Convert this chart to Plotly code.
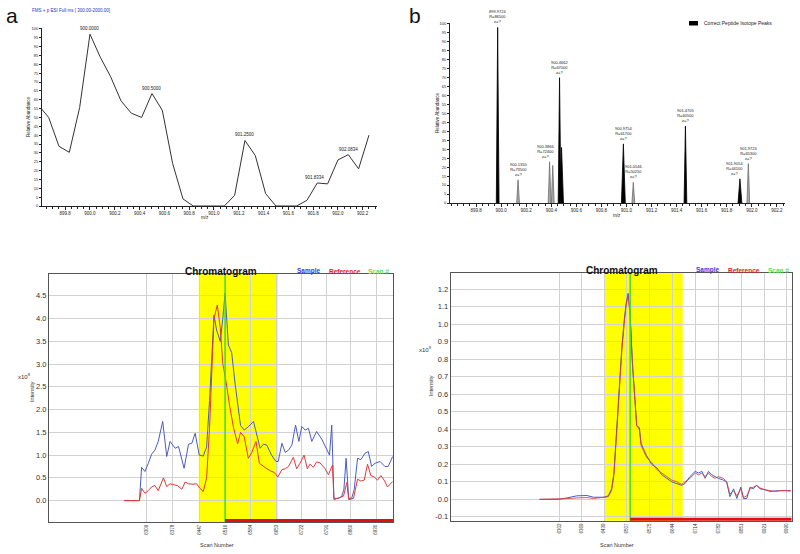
import plotly.graph_objects as go

W, H = 800, 554
def px(x): return x / W
def py(y): return 1 - y / H

FONT = "Liberation Sans, Arial, sans-serif"

# ---------------- Panel a : profile spectrum ----------------
a_mz = [899.5833, 899.6667, 899.75, 899.8333, 899.9167, 900.0, 900.0833, 900.1667,
        900.25, 900.3333, 900.4167, 900.5, 900.5833, 900.6667, 900.75, 900.8333,
        900.9167, 901.0, 901.0833, 901.1667, 901.25, 901.3333, 901.4167, 901.5,
        901.5833, 901.6667, 901.75, 901.8334, 901.9167, 902.0, 902.0834, 902.1667, 902.25]
a_abund = [57, 50, 33.7, 30.3, 55.6, 97, 84, 73, 59.4, 52.4, 50, 63.5, 54, 24, 4, 0,
           0, 0, 0, 6, 37, 28.5, 7, 0, 0, 0, 3.2, 13, 12.5, 26, 29, 21, 40]
a_label_mz = [900.0, 900.5, 901.25, 901.8334, 902.0834]
a_label_y = [97, 63.5, 37, 13, 29]
a_label_text = ["900.0000", "900.5000", "901.2500", "901.8334", "902.0834"]
a_xticks = [899.8, 900.0, 900.2, 900.4, 900.6, 900.8, 901.0, 901.2, 901.4, 901.6, 901.8, 902.0, 902.2]
ab_yticks = [0, 5, 10, 15, 20, 25, 30, 35, 40, 45, 50, 55, 60, 65, 70, 75, 80, 85, 90, 95, 100]

# ---------------- Panel b : centroid isotope peaks ----------------
b_mz = [899.9724, 900.1350, 900.3866, 900.4120, 900.4662, 900.4820, 900.9754,
        901.0546, 901.4705, 901.9054, 901.9724]
b_int = [98, 13, 23, 21, 70, 31, 33, 11.5, 43, 13.5, 22]
b_correct = [True, False, False, False, True, True, True, False, True, True, False]
b_label_mz = [899.9724, 900.1350, 900.3866, 900.4662, 900.9754, 901.0546, 901.4705, 901.9054, 901.9724]
b_label_int = [98, 13, 23, 70, 33, 11.5, 43, 13.5, 22]
b_label_R = [86500, 73500, 72400, 67000, 61700, 50250, 60500, 44100, 65300]
b_xticks = a_xticks

# ---------------- Panel c : chromatogram 1 ----------------
c_scan_sample = [6248, 6289, 6295, 6304, 6313, 6322, 6331, 6340, 6352, 6363, 6372, 6386,
                 6395, 6410, 6422, 6431, 6440, 6451, 6462, 6471, 6479, 6485, 6491, 6498,
                 6508, 6515, 6521, 6530, 6539, 6548, 6557, 6563, 6573, 6584, 6598, 6607,
                 6616, 6625, 6634, 6647, 6659, 6665, 6675, 6684, 6693, 6702, 6712, 6721,
                 6729, 6738, 6747, 6756, 6769, 6783, 6792, 6804, 6810, 6816, 6828, 6837,
                 6843, 6849, 6856, 6864, 6871, 6880, 6889, 6900, 6909, 6918, 6927, 6941,
                 6954, 6963, 6975]
c_sample = [0.0, 0.0, 0.73, 0.64, 0.82, 1.02, 1.11, 1.30, 1.74, 0.97, 1.30, 1.15,
            1.19, 0.71, 1.24, 1.26, 1.48, 1.00, 0.98, 1.18, 2.2, 3.2, 4.08, 3.75,
            3.5, 4.01, 4.56, 3.42, 3.25, 2.58, 2.0, 1.65, 1.55, 1.62, 1.74, 1.41,
            1.15, 1.24, 1.22, 1.0, 0.86, 0.86, 1.26, 1.06, 1.11, 1.22, 1.66, 1.3,
            1.63, 1.55, 1.59, 1.3, 1.52, 1.35, 1.2, 1.0, 1.66, 0.05, 0.05, 0.09,
            0.25, 0.93, 0.05, 0.05, 0.25, 0.93, 0.9, 1.04, 1.08, 0.75, 0.82, 0.86,
            0.75, 0.75, 0.97]
c_scan_ref = [6248, 6289, 6295, 6304, 6313, 6322, 6331, 6340, 6354, 6363, 6372, 6381,
              6392, 6404, 6413, 6422, 6434, 6444, 6453, 6462, 6471, 6479, 6485, 6491,
              6500, 6508, 6515, 6524, 6533, 6544, 6555, 6563, 6573, 6584, 6593, 6605,
              6614, 6625, 6634, 6645, 6654, 6664, 6675, 6684, 6693, 6706, 6715, 6724,
              6735, 6744, 6751, 6760, 6769, 6778, 6792, 6801, 6812, 6816, 6828, 6842,
              6851, 6856, 6869, 6880, 6889, 6898, 6907, 6916, 6925, 6934, 6943, 6952,
              6961, 6975]
c_ref = [0.0, 0.0, 0.27, 0.16, 0.22, 0.30, 0.33, 0.22, 0.50, 0.31, 0.37, 0.35,
         0.33, 0.25, 0.41, 0.37, 0.36, 0.37, 0.27, 0.20, 0.50, 1.6, 3.0, 4.0,
         4.3, 3.8, 3.0, 2.6, 2.1, 1.6, 1.25, 1.5, 1.4, 0.93, 1.05, 1.3,
         0.82, 0.75, 0.7, 0.65, 0.62, 0.52, 0.68, 0.7, 0.75, 0.95, 0.7, 0.82,
         1.0, 0.7, 0.8, 0.73, 0.85, 0.83, 0.7, 0.57, 0.78, 0.02, 0.05, 0.1,
         0.4, 0.02, 0.05, 0.47, 0.43, 0.45, 0.8, 0.55, 0.52, 0.45, 0.55, 0.45,
         0.3, 0.42]
c_xtick_pos = [6309, 6379, 6451, 6521, 6591, 6661, 6729, 6796, 6860, 6930]
c_xtick_text = ["6309", "6378", "6447", "6516", "6584", "6653", "6722", "6791", "6860", "6930"]
c_yticks = [0.0, 0.5, 1.0, 1.5, 2.0, 2.5, 3.0, 3.5, 4.0, 4.5]
c_window = [6450, 6664]
c_scan_marker = 6521

# ---------------- Panel d : chromatogram 2 ----------------
d_scan = [6242, 6299, 6324, 6355, 6385, 6405, 6425, 6437, 6450, 6460, 6467, 6476,
          6484, 6491, 6498, 6504, 6510, 6516, 6523, 6531, 6536, 6544, 6549, 6556,
          6566, 6581, 6597, 6612, 6627, 6642, 6657, 6672, 6682, 6697, 6713, 6723,
          6733, 6743, 6753, 6763, 6773, 6783, 6798, 6808, 6818, 6829, 6839, 6851,
          6859, 6869, 6879, 6889, 6899, 6909, 6924, 6939, 6955, 6970, 6985, 7002]
d_sample = [0.0, 0.0, 0.008, 0.02, 0.022, 0.012, 0.012, 0.012, 0.02, 0.06, 0.15, 0.42,
            0.68, 0.87, 1.02, 1.12, 1.177, 1.06, 0.78, 0.53, 0.42, 0.41, 0.32, 0.29,
            0.25, 0.2, 0.18, 0.14, 0.12, 0.1, 0.09, 0.08, 0.09, 0.13, 0.16, 0.15,
            0.16, 0.12, 0.16, 0.14, 0.13, 0.12, 0.11, 0.1, 0.015, 0.06, 0.005, 0.07,
            0.005, 0.005, 0.07, 0.06, 0.08, 0.06, 0.055, 0.045, 0.048, 0.05, 0.05, 0.047]
d_ref = [0.0, 0.0, 0.004, 0.008, 0.01, 0.005, 0.01, 0.01, 0.015, 0.05, 0.14, 0.4,
         0.66, 0.85, 1.0, 1.11, 1.165, 1.05, 0.77, 0.52, 0.42, 0.40, 0.31, 0.28,
         0.24, 0.21, 0.17, 0.15, 0.13, 0.11, 0.1, 0.085, 0.1, 0.12, 0.15, 0.14,
         0.15, 0.13, 0.15, 0.13, 0.12, 0.13, 0.12, 0.1, 0.03, 0.05, 0.02, 0.06,
         0.01, 0.02, 0.06, 0.07, 0.08, 0.065, 0.055, 0.05, 0.045, 0.05, 0.05, 0.05]
d_xtick_pos = [6302, 6368, 6437, 6506, 6576, 6645, 6713, 6783, 6854, 6922, 6990]
d_xtick_text = ["6302", "6369", "6439", "6507", "6575", "6644", "6714", "6782", "6851", "6921", "6990"]
d_yticks = [-0.1, 0.0, 0.1, 0.2, 0.3, 0.4, 0.5, 0.6, 0.7, 0.8, 0.9, 1.0, 1.1, 1.2]
d_window = [6437, 6675]
d_scan_marker = 6516

# ---------------- style constants ----------------
BLUE = "#4a5cc4"
RED = "#e03a3a"
GREEN = "#3ddc3d"
YELLOW = "#ffff00"
GRID = "#d2d2d2"
FRAME = "#555555"
PEAK_HW = 0.011

fig = go.Figure()

# Panel a line
fig.add_trace(go.Scatter(x=a_mz, y=a_abund, mode="lines", xaxis="x", yaxis="y",
                         line=dict(color="#333333", width=1), hoverinfo="skip"))

# Panel b peaks (triangular profiles built from centroid list)
def tri(mzs, ints, flags, want):
    xs, ys = [], []
    for m, h, f in zip(mzs, ints, flags):
        if f != want:
            continue
        hw = PEAK_HW * (1.4 if h < 35 and f else 1.0)
        xs += [m - hw, m, m + hw, None]
        ys += [0, h, 0, None]
    return xs, ys

gx, gy = tri(b_mz, b_int, b_correct, False)
fig.add_trace(go.Scatter(x=gx, y=gy, mode="lines", fill="toself", xaxis="x2", yaxis="y2",
                         fillcolor="#a8a8a8", line=dict(color="#6e6e6e", width=0.8),
                         hoverinfo="skip"))
kx, ky = tri(b_mz, b_int, b_correct, True)
fig.add_trace(go.Scatter(x=kx, y=ky, mode="lines", fill="toself", xaxis="x2", yaxis="y2",
                         fillcolor="#000000", line=dict(color="#000000", width=0.8),
                         hoverinfo="skip"))

# Panel c
fig.add_trace(go.Scatter(x=c_scan_sample, y=c_sample, mode="lines", xaxis="x3", yaxis="y3",
                         line=dict(color=BLUE, width=1), hoverinfo="skip"))
fig.add_trace(go.Scatter(x=c_scan_ref, y=c_ref, mode="lines", xaxis="x3", yaxis="y3",
                         line=dict(color=RED, width=1), hoverinfo="skip"))
# Panel d
fig.add_trace(go.Scatter(x=d_scan, y=d_sample, mode="lines", xaxis="x4", yaxis="y4",
                         line=dict(color=BLUE, width=1), hoverinfo="skip"))
fig.add_trace(go.Scatter(x=d_scan, y=d_ref, mode="lines", xaxis="x4", yaxis="y4",
                         line=dict(color=RED, width=1), opacity=0.85, hoverinfo="skip"))

tickfont_tiny = dict(family=FONT, size=4.5, color="#222")

spec_x = dict(showline=True, linecolor="#222", linewidth=1, ticks="outside", ticklen=3,
              tickcolor="#222", tickwidth=0.6, showgrid=False, zeroline=False, automargin=False,
              tickvals=a_xticks, ticktext=["%.1f" % v for v in a_xticks],
              tickfont=tickfont_tiny, minor=dict(ticks="outside", ticklen=1.5, dtick=0.05,
                                                  tickcolor="#222", tickwidth=0.5))
spec_y = dict(showline=True, linecolor="#222", linewidth=1, ticks="outside", ticklen=2,
              tickcolor="#222", tickwidth=0.6, showgrid=False, zeroline=False, automargin=False,
              tickvals=ab_yticks, range=[0, 100.5], tickfont=dict(family=FONT, size=4, color="#222"))

chrom_x = dict(showline=True, mirror=True, linecolor=FRAME, linewidth=1, showgrid=True,
               gridcolor=GRID, gridwidth=1, zeroline=False, ticks="", tickangle=-90,
               automargin=False, tickfont=dict(family=FONT, size=4.5, color="#333"))
chrom_y = dict(showline=True, mirror=True, linecolor=FRAME, linewidth=1, showgrid=True,
               gridcolor=GRID, gridwidth=1, zeroline=False, ticks="", automargin=False,
               tickfont=dict(family=FONT, size=7.5, color="#333"))

fig.update_layout(
    width=W, height=H, margin=dict(l=0, r=0, t=0, b=0, autoexpand=False),
    paper_bgcolor="white", plot_bgcolor="white", showlegend=False,
    font=dict(family=FONT),
    xaxis=dict(domain=[px(42), px(377)], range=[899.613, 902.315], anchor="y", **spec_x),
    yaxis=dict(domain=[py(206), py(28)], anchor="x", **spec_y),
    xaxis2=dict(domain=[px(450), px(785)], range=[899.592, 902.265], anchor="y2", **spec_x),
    yaxis2=dict(domain=[py(203), py(23)], anchor="x2", **spec_y),
    xaxis3=dict(domain=[px(49), px(393)], range=[6044, 6976], anchor="y3",
                tickvals=c_xtick_pos, ticktext=c_xtick_text, **chrom_x),
    yaxis3=dict(domain=[py(522), py(274)], range=[-0.47, 4.98], anchor="x3",
                tickvals=c_yticks, ticktext=["%.1f" % v for v in c_yticks], **chrom_y),
    xaxis4=dict(domain=[px(450.7), px(791.7)], range=[5973, 7005], anchor="y4",
                tickvals=d_xtick_pos, ticktext=d_xtick_text, **chrom_x),
    yaxis4=dict(domain=[py(520.7), py(273.3)], range=[-0.122, 1.291], anchor="x4",
                tickvals=d_yticks, ticktext=["%.1f" % v for v in d_yticks], **chrom_y),
)

shapes = []
for xa, win, marker, xmax in (("x3", c_window, c_scan_marker, 6976),
                              ("x4", d_window, d_scan_marker, 7005)):
    ya = "y" + xa[1:]
    shapes.append(dict(type="rect", xref=xa, yref=ya + " domain", x0=win[0], x1=win[1],
                       y0=0, y1=1, fillcolor=YELLOW, line=dict(width=0), layer="below"))
    shapes.append(dict(type="line", xref=xa, yref=ya + " domain", x0=marker, x1=marker,
                       y0=0, y1=1, line=dict(color=GREEN, width=1.5), layer="above"))
    shapes.append(dict(type="line", xref=xa, yref=ya + " domain", x0=marker, x1=xmax,
                       y0=0.006, y1=0.006, line=dict(color="#e01010", width=3), layer="above"))
# legend swatch for panel b
shapes.append(dict(type="rect", xref="paper", yref="paper", x0=px(689), x1=px(698),
                   y0=py(25.5), y1=py(21), fillcolor="black", line=dict(width=0)))
fig.update_layout(shapes=shapes)

ann = []
def txt(x, y, s, size, color="#222", xanchor="center", yanchor="middle", angle=0, bold=False, **kw):
    d = dict(x=x, y=y, text=("<b>%s</b>" % s if bold else s), showarrow=False,
             xanchor=xanchor, yanchor=yanchor, textangle=angle,
             font=dict(family=FONT, size=size, color=color))
    d.setdefault("xref", "paper"); d.setdefault("yref", "paper")
    d.update(kw)
    ann.append(d)

# panel letters
txt(px(12), py(16), "a", 21, color="#111")
txt(px(415), py(15), "b", 21, color="#111")
# header panel a
txt(px(30), py(10), "FMS + p ESI Full ms [ 300.00-2000.00]", 4.5, color="#2233cc", xanchor="left")
# axis titles a / b
txt(px(205), py(217.5), "m/z", 4.5)
txt(px(28), py(117), "Relative Abundance", 4.5, angle=-90)
txt(px(617), py(215.5), "m/z", 4.5)
txt(px(437), py(113), "Relative Abundance", 4.5, angle=-90)
# legend b
txt(px(702), py(23.2), "Correct Peptide Isotope Peaks", 5, xanchor="left")

# panel a peak labels
for m, v, t in zip(a_label_mz, a_label_y, a_label_text):
    shift = -3 if t == "901.8334" else 0
    txt(m, v, t, 4.5, xref="x", yref="y", yanchor="bottom", yshift=1, xshift=shift)

# panel b peak labels
for m, v, r in zip(b_label_mz, b_label_int, b_label_R):
    shift = {900.3866: -4, 901.9054: -5}.get(m, 0)
    txt(m, v, "%.4f<br>R=%d<br>z=?" % (m, r), 4, xref="x2", yref="y2",
        yanchor="bottom", yshift=1, xshift=shift)

# chromatogram headers
for cx, sx, rx, gx_, ty in ((221, 309, 344.5, 391, 271), (622, 708, 744, 791, 270)):
    txt(px(cx), py(ty), "Chromatogram", 10, color="#111", bold=True)
    txt(px(sx), py(ty), "Sample", 6.5, color="#3a3ad8", bold=True)
    txt(px(rx), py(ty), "Reference", 6.5, color="#e02020", bold=True)
    txt(px(gx_), py(ty), "Scan #", 6.5, color="#55e055", bold=True, xanchor="right")

# chromatogram axis titles
txt(px(217), py(545), "Scan Number", 5.5, color="#333")
txt(px(617), py(545), "Scan Number", 5.5, color="#333")
txt(px(24), py(376), "x10<sup>8</sup>", 6, color="#333")
txt(px(32), py(392), "Intensity", 5.5, color="#333", angle=-90)
txt(px(425), py(349), "x10<sup>9</sup>", 6, color="#333")
txt(px(431), py(385), "Intensity", 5.5, color="#333", angle=-90)

fig.update_layout(annotations=ann)
fig.write_html("out.html", config={"displayModeBar": False},
               post_script="document.body.style.margin='0';document.body.style.overflow='hidden';")
